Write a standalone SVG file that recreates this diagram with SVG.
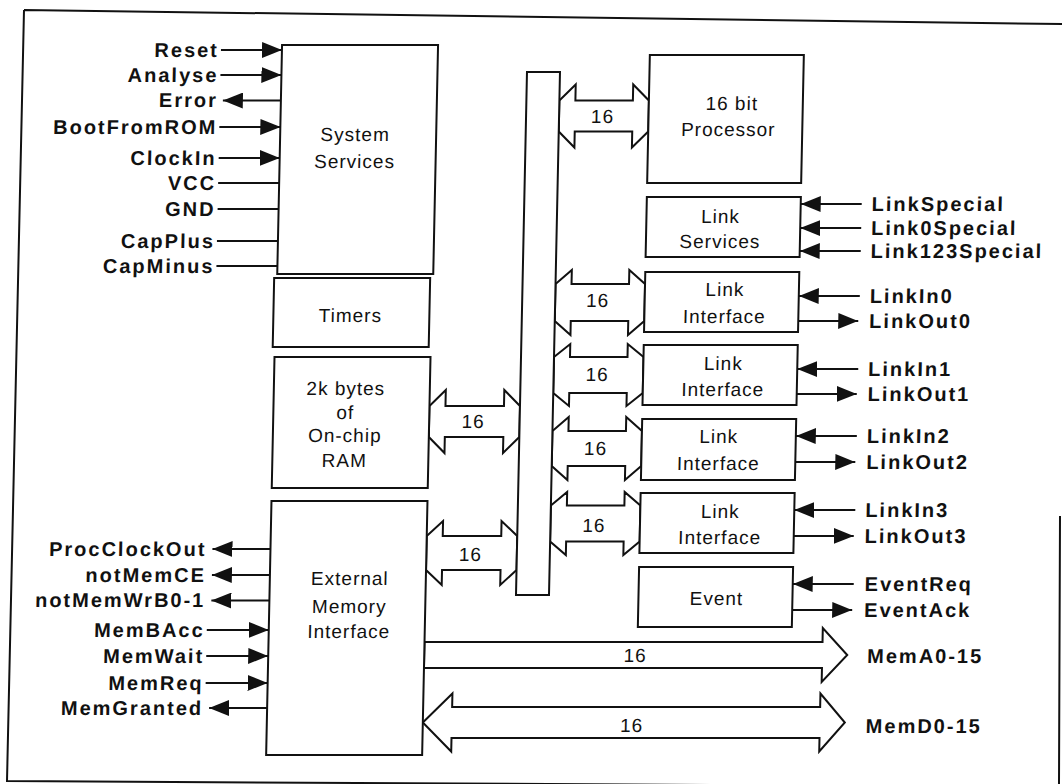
<svg xmlns="http://www.w3.org/2000/svg" width="1062" height="784" viewBox="0 0 1062 784">
<defs>
<style>
.box{fill:#fff;stroke:#111;stroke-width:2}
.wire{fill:none;stroke:#111;stroke-width:2}
.bus{fill:#fff;stroke:#111;stroke-width:2;stroke-linejoin:miter}
.sig{font-family:"Liberation Sans",Arial,sans-serif;font-weight:bold;font-size:20px;letter-spacing:2px;fill:#111}
.sigL{text-anchor:end}
.lbl{font-family:"Liberation Sans",Arial,sans-serif;font-size:19px;letter-spacing:1px;fill:#111;text-anchor:middle}
</style>
<marker id="ah" markerWidth="20" markerHeight="16" refX="20" refY="8" orient="auto" markerUnits="userSpaceOnUse">
<path d="M0,0 L20,8 L0,16 Z" fill="#111"/>
</marker>
</defs>
<rect width="1062" height="784" fill="#fff"/>
<g id="frame" class="wire">
<path d="M24,10 L1062,24 M24,10 L7,781 L1062,787 M1060,516 L1059,784"/>
</g>
<g transform="matrix(1 0 -0.021 1 0 0)">
<g id="connectors">
<g class="wire">
<line x1="222" y1="50" x2="283" y2="50" marker-end="url(#ah)"/>
<line x1="222" y1="75" x2="283" y2="75" marker-end="url(#ah)"/>
<line x1="283" y1="100.5" x2="225" y2="100.5" marker-end="url(#ah)"/>
<line x1="222" y1="127" x2="283" y2="127" marker-end="url(#ah)"/>
<line x1="222" y1="158" x2="283" y2="158" marker-end="url(#ah)"/>
<line x1="222" y1="183" x2="283" y2="183"/>
<line x1="222" y1="209" x2="283" y2="209"/>
<line x1="222" y1="241" x2="283" y2="241"/>
<line x1="222" y1="266" x2="283" y2="266"/>
<line x1="282" y1="549" x2="224" y2="549" marker-end="url(#ah)"/>
<line x1="282" y1="575" x2="224" y2="575" marker-end="url(#ah)"/>
<line x1="282" y1="600.5" x2="224" y2="600.5" marker-end="url(#ah)"/>
<line x1="220" y1="630" x2="282" y2="630" marker-end="url(#ah)"/>
<line x1="220" y1="656" x2="282" y2="656" marker-end="url(#ah)"/>
<line x1="220" y1="683" x2="282" y2="683" marker-end="url(#ah)"/>
<line x1="282" y1="708" x2="224" y2="708" marker-end="url(#ah)"/>
<line x1="866" y1="204" x2="805" y2="204" marker-end="url(#ah)"/>
<line x1="866" y1="228" x2="805" y2="228" marker-end="url(#ah)"/>
<line x1="866" y1="251" x2="805" y2="251" marker-end="url(#ah)"/>
<line x1="866" y1="296" x2="805" y2="296" marker-end="url(#ah)"/>
<line x1="805" y1="321" x2="865" y2="321" marker-end="url(#ah)"/>
<line x1="866" y1="369" x2="805" y2="369" marker-end="url(#ah)"/>
<line x1="805" y1="394" x2="865" y2="394" marker-end="url(#ah)"/>
<line x1="866" y1="436" x2="805" y2="436" marker-end="url(#ah)"/>
<line x1="805" y1="462" x2="865" y2="462" marker-end="url(#ah)"/>
<line x1="866" y1="510" x2="805" y2="510" marker-end="url(#ah)"/>
<line x1="805" y1="536" x2="865" y2="536" marker-end="url(#ah)"/>
<line x1="866" y1="584" x2="805" y2="584" marker-end="url(#ah)"/>
<line x1="805" y1="610" x2="865" y2="610" marker-end="url(#ah)"/>
</g>
<g class="bus">
<path d="M561.5,100.5 L577.5,84.5 L577.5,100.5 L635,100.5 L635,84.5 L651,100.5 L651,131.5 L635,147.5 L635,131.5 L577.5,131.5 L577.5,147.5 L561.5,131.5 Z"/>
<path d="M561.5,284 L577.5,270 L577.5,284 L635,284 L635,270 L651,284 L651,321 L635,335 L635,321 L577.5,321 L577.5,335 L561.5,321 Z"/>
<path d="M561.5,357 L577.5,344 L577.5,357 L635,357 L635,344 L651,357 L651,393 L635,406 L635,393 L577.5,393 L577.5,406 L561.5,393 Z"/>
<path d="M561.5,431 L577.5,417 L577.5,431 L635,431 L635,417 L651,431 L651,466 L635,480 L635,466 L577.5,466 L577.5,480 L561.5,466 Z"/>
<path d="M561.5,505.5 L577.5,492 L577.5,505.5 L635,505.5 L635,492 L651,505.5 L651,541.5 L635,555 L635,541.5 L577.5,541.5 L577.5,555 L561.5,541.5 Z"/>
<path d="M438,406 L454,390 L454,406 L512.5,406 L512.5,390 L528.5,406 L528.5,437 L512.5,453 L512.5,437 L454,437 L454,453 L438,437 Z"/>
<path d="M438,536 L454,521 L454,536 L512.5,536 L512.5,521 L528.5,536 L528.5,570 L512.5,585 L512.5,570 L454,570 L454,585 L438,570 Z"/>
<path d="M438,642 L836,642 L836,628 L861,655 L836,682 L836,668 L438,668 Z"/>
<path d="M438,722.5 L467,693.5 L467,707 L835,707 L835,693.5 L860,722.5 L835,751.5 L835,738 L467,738 L467,751.5 Z"/>
</g>
<g class="lbl">
<text x="605" y="123">16</text>
<text x="604" y="307">16</text>
<text x="605" y="381">16</text>
<text x="605" y="455">16</text>
<text x="605" y="532">16</text>
<text x="482" y="428">16</text>
<text x="482" y="561">16</text>
<text x="649" y="662">16</text>
<text x="647" y="732">16</text>
</g>
</g>
<g class="sig sigL">
<text x="220" y="57">Reset</text>
<text x="220" y="82">Analyse</text>
<text x="220" y="107.5">Error</text>
<text x="220" y="134">BootFromROM</text>
<text x="220" y="165">ClockIn</text>
<text x="220" y="190">VCC</text>
<text x="220" y="216">GND</text>
<text x="220" y="248">CapPlus</text>
<text x="220" y="273">CapMinus</text>
<text x="218" y="556">ProcClockOut</text>
<text x="218" y="582">notMemCE</text>
<text x="218" y="607.5">notMemWrB0-1</text>
<text x="218" y="637">MemBAcc</text>
<text x="218" y="663">MemWait</text>
<text x="218" y="690">MemReq</text>
<text x="218" y="715">MemGranted</text>
</g>
<g class="sig">
<text x="876" y="211">LinkSpecial</text>
<text x="876" y="235">Link0Special</text>
<text x="876" y="258">Link123Special</text>
<text x="876" y="303">LinkIn0</text>
<text x="876" y="328">LinkOut0</text>
<text x="876" y="376">LinkIn1</text>
<text x="876" y="401">LinkOut1</text>
<text x="876" y="443">LinkIn2</text>
<text x="876" y="469">LinkOut2</text>
<text x="876" y="517">LinkIn3</text>
<text x="876" y="543">LinkOut3</text>
<text x="877" y="591">EventReq</text>
<text x="877" y="617">EventAck</text>
<text x="881" y="663">MemA0-15</text>
<text x="881" y="733">MemD0-15</text>
</g>
<g id="bus-bar"><rect class="box" x="528.5" y="72" width="33" height="523"/></g>
<g id="system-services"><rect class="box" x="283" y="45" width="156" height="229"/>
<text class="lbl" x="358" y="141">System</text><text class="lbl" x="358" y="168">Services</text></g>
<g id="timers"><rect class="box" x="280" y="278" width="156" height="69"/>
<text class="lbl" x="357" y="322">Timers</text></g>
<g id="ram"><rect class="box" x="282" y="357" width="156" height="131"/>
<text class="lbl" x="354" y="395">2k bytes</text><text class="lbl" x="354" y="419">of</text><text class="lbl" x="354" y="442">On-chip</text><text class="lbl" x="354" y="467">RAM</text></g>
<g id="emi"><rect class="box" x="282" y="501" width="156" height="254"/>
<text class="lbl" x="362" y="585">External</text><text class="lbl" x="362" y="613">Memory</text><text class="lbl" x="362" y="638">Interface</text></g>
<g id="processor"><rect class="box" x="651" y="55" width="154" height="128"/>
<text class="lbl" x="734" y="110">16 bit</text><text class="lbl" x="731" y="136">Processor</text></g>
<g id="link-services"><rect class="box" x="651" y="197" width="154" height="60"/>
<text class="lbl" x="725" y="223">Link</text><text class="lbl" x="725" y="248">Services</text></g>
<g id="link-interface-0"><rect class="box" x="651" y="272" width="154" height="60"/>
<text class="lbl" x="731" y="296">Link</text><text class="lbl" x="731" y="323">Interface</text></g>
<g id="link-interface-1"><rect class="box" x="651" y="345" width="154" height="60"/>
<text class="lbl" x="731" y="370">Link</text><text class="lbl" x="731" y="396">Interface</text></g>
<g id="link-interface-2"><rect class="box" x="651" y="419" width="154" height="61"/>
<text class="lbl" x="728" y="443">Link</text><text class="lbl" x="728" y="470">Interface</text></g>
<g id="link-interface-3"><rect class="box" x="651" y="493" width="154" height="60"/>
<text class="lbl" x="731" y="518">Link</text><text class="lbl" x="731" y="544">Interface</text></g>
<g id="event"><rect class="box" x="651" y="567" width="154" height="60"/>
<text class="lbl" x="729" y="605">Event</text></g>
</g>
</svg>
